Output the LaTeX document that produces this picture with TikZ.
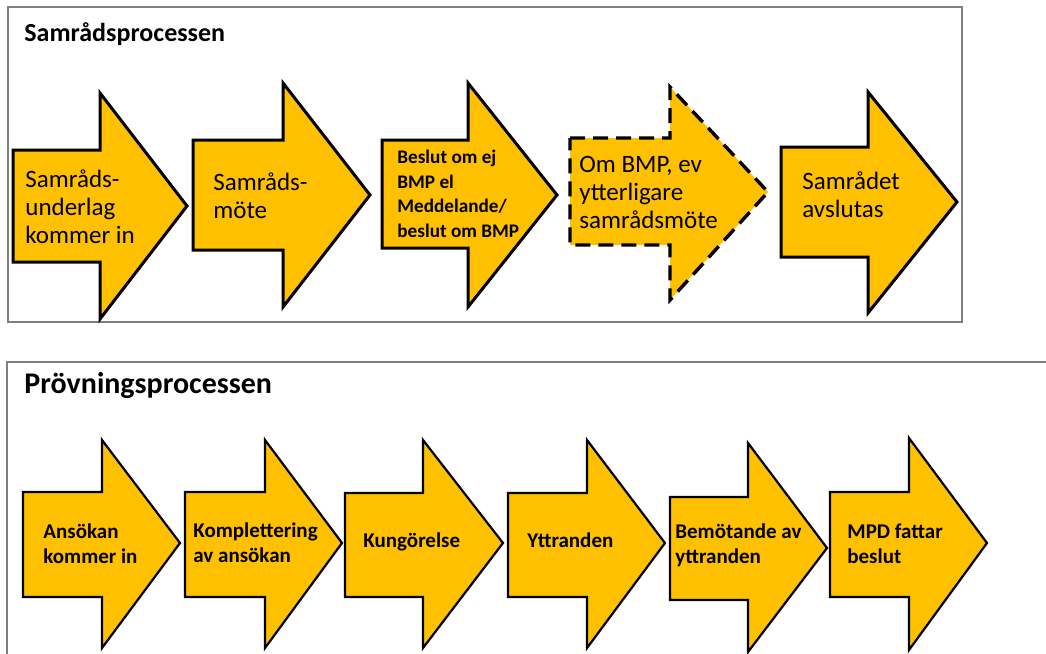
\documentclass[tikz,border=0pt]{standalone}
\usepackage{fontspec}
\setmainfont{Carlito}
\definecolor{arrowgold}{HTML}{FFC000}
\definecolor{framegray}{HTML}{7F7F7F}

\begin{document}
\begin{tikzpicture}[x=0.5pt,y=-0.5pt,
    frame/.style={draw=framegray,line width=1pt},
    samarrow/.style={fill=arrowgold,draw=black,line width=1.5pt,line join=miter},
    optarrow/.style={samarrow,line width=1.7pt,dash pattern=on 7.5pt off 4pt},
    provarrow/.style={fill=arrowgold,draw=black,line width=1.1pt,line join=miter},
    titletext/.style={anchor=base west,inner sep=0pt,font=\bfseries\fontsize{13}{15}\selectfont},
    samtext/.style={anchor=base west,align=left,inner sep=0pt,font=\fontsize{12.5}{14}\selectfont},
    smalltext/.style={anchor=base west,align=left,inner sep=0pt,font=\bfseries\fontsize{9.6}{12.2}\selectfont},
    provtext/.style={anchor=base west,align=left,inner sep=0pt,font=\bfseries\fontsize{10.5}{12.5}\selectfont}]
	\useasboundingbox (0,0) rectangle (1046,654);
	\fill[white] (0,0) rectangle (1046,654);
	
	% Samrådsprocessen
	\draw[frame] (8,7) rectangle (962,322);
	\node[titletext] (samtitle) at (24,41) {Samrådsprocessen};
	
	\draw[samarrow] (13,150) -- (100,150) -- (100,93) -- (187,206) -- (100,319) -- (100,262) -- (13,262) -- cycle;
	\draw[samarrow] (193,140) -- (283,140) -- (283,83) -- (370,195) -- (283,307) -- (283,250) -- (193,250) -- cycle;
	\draw[samarrow] (382,140) -- (468,140) -- (468,83) -- (557,195) -- (468,307) -- (468,248) -- (382,248) -- cycle;
	\draw[optarrow] (570,138) -- (670,138) -- (670,87) -- (768,192) -- (670,300) -- (670,245) -- (570,245) -- cycle;
	\draw[samarrow] (781,147) -- (868,147) -- (868,92) -- (957,202) -- (868,313) -- (868,257) -- (781,257) -- cycle;
	
	% base anchor = last line
	\node[samtext] (underlag) at (25,243) {Samråds-\\underlag\\kommer in};
	\node[samtext] (mote) at (213,218) {Samråds-\\möte};
	\node[smalltext] (beslut) at (397,237) {Beslut om ej\\BMP el\\Meddelande/\\beslut om BMP};
	\node[samtext] (ytterligare) at (579,228) {Om BMP, ev\\ytterligare\\samrådsmöte};
	\node[samtext] (avslutas) at (802,217) {Samrådet\\avslutas};
	
	% Prövningsprocessen
	\draw[frame] (7,362) rectangle (1070,680);
	\node[titletext,font=\bfseries\fontsize{15}{17}\selectfont] (provtitle) at (24,393) {Prövningsprocessen};
	
	\draw[provarrow] (23,492) -- (102,492) -- (102,440) -- (180,543) -- (102,648) -- (102,597) -- (23,597) -- cycle;
	\draw[provarrow] (185,492) -- (265,492) -- (265,440) -- (342,543) -- (265,648) -- (265,597) -- (185,597) -- cycle;
	\draw[provarrow] (345,493) -- (423,493) -- (423,440) -- (503,543) -- (423,648) -- (423,597) -- (345,597) -- cycle;
	\draw[provarrow] (508,493) -- (587,493) -- (587,440) -- (665,543) -- (587,648) -- (587,597) -- (508,597) -- cycle;
	\draw[provarrow] (670,497) -- (748,497) -- (748,443) -- (827,548) -- (748,652) -- (748,600) -- (670,600) -- cycle;
	\draw[provarrow] (830,492) -- (909,492) -- (909,438) -- (987,543) -- (909,650) -- (909,597) -- (830,597) -- cycle;
	
	\node[provtext] (ansokan) at (43,563) {Ansökan\\kommer in};
	\node[provtext] (komplettering) at (193,562) {Komplettering\\av ansökan};
	\node[provtext] (kungorelse) at (363,547) {Kungörelse};
	\node[provtext] (yttranden) at (527,547) {Yttranden};
	\node[provtext] (bemotande) at (675,563) {Bemötande av\\yttranden};
	\node[provtext] (mpd) at (847,563) {MPD fattar\\beslut};
	
\end{tikzpicture}
\end{document}
